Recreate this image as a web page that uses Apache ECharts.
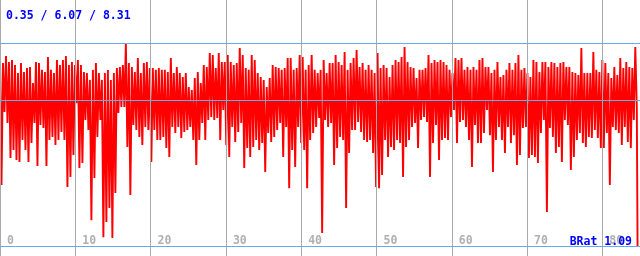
<!DOCTYPE html>
<html>
<head>
<meta charset="utf-8">
<script src="https://cdn.jsdelivr.net/npm/echarts@6/dist/echarts.min.js"></script>
<style>html,body{margin:0;padding:0;background:#fff}#c{width:640px;height:256px}</style>
</head>
<body>
<div id="c"></div>
<script>
// per-column upper values (one column every ~3 px of the trace)
var hiVals = [7.80,7.51,7.80,7.55,7.63,7.43,7.10,7.51,7.14,7.31,7.35,6.69,7.55,7.51,7.23,7.14,7.76,7.23,7.10,7.63,
7.43,7.63,7.80,7.43,7.55,7.43,7.63,7.43,7.14,7.10,6.82,7.23,7.51,7.10,6.82,7.10,7.23,6.82,7.10,7.31,
7.35,7.43,8.31,7.51,7.35,7.14,7.72,7.10,7.51,7.55,7.31,7.31,7.23,7.31,7.23,7.23,7.14,7.72,7.10,7.35,
7.10,6.94,7.10,6.53,6.41,6.90,7.14,6.69,7.43,7.35,7.92,7.84,7.31,7.92,7.55,7.55,7.84,7.55,7.43,7.51,
8.13,7.84,7.31,7.23,7.84,7.63,7.10,6.94,6.82,6.53,6.90,7.43,7.35,7.31,7.23,7.31,7.72,7.72,7.23,7.31,
7.84,7.76,7.23,7.43,7.84,7.23,7.10,7.23,7.63,7.10,7.51,7.51,7.84,7.55,7.43,7.96,7.23,7.51,7.72,8.04,
7.35,7.51,7.23,7.43,7.23,7.10,7.92,7.31,7.43,7.31,6.94,7.43,7.63,7.55,7.76,8.17,7.55,7.35,7.31,6.90,
7.23,7.23,7.31,7.84,7.51,7.63,7.55,7.63,7.55,7.43,7.23,7.10,7.72,7.63,7.72,7.23,7.35,7.23,7.35,7.23,
7.63,7.72,7.35,7.35,7.10,7.23,7.55,6.94,7.02,7.23,7.51,7.23,7.51,7.84,7.23,7.31,7.10,6.94,7.63,7.55,
7.14,7.55,7.55,7.35,7.55,7.51,7.35,7.51,7.55,7.35,7.35,7.14,7.10,7.02,8.13,7.10,7.10,7.10,7.96,7.23,
7.14,7.63,7.51,7.10,6.90,7.35,7.02,7.72,7.31,7.55,7.35,7.31,8.17];
// per-column lower values
var loVals = [2.52,5.51,5.06,3.62,3.95,3.54,3.46,4.36,3.95,3.46,4.24,5.06,3.30,4.97,4.85,3.30,4.36,4.48,4.16,4.36,
4.69,4.36,2.44,2.85,3.75,5.87,3.21,3.42,5.18,4.77,1.08,2.80,4.48,5.18,0.38,1.00,1.58,0.35,2.19,5.47,
5.71,5.71,4.07,2.11,4.97,4.77,4.48,4.16,4.89,4.77,3.46,4.77,4.36,4.36,4.48,4.03,3.66,4.89,4.65,4.89,
4.44,4.69,4.77,4.89,4.36,3.34,4.36,5.06,4.36,5.18,5.30,5.18,5.26,4.36,5.59,4.16,3.66,4.89,4.28,4.69,
5.06,3.21,4.03,3.66,4.07,4.36,3.95,4.24,3.05,4.65,4.28,4.48,4.77,5.06,3.66,4.89,2.39,3.95,3.25,4.89,
4.24,3.95,2.39,4.36,4.65,4.89,5.26,0.55,5.18,4.89,5.06,3.34,4.03,4.48,4.36,1.58,3.83,4.77,4.77,5.10,
4.69,4.36,4.28,4.36,3.83,2.44,2.39,2.93,4.36,3.66,4.07,3.95,4.36,4.24,2.85,4.07,4.36,4.89,5.06,4.03,
5.18,5.30,5.10,2.85,4.24,4.97,3.54,4.36,4.44,4.36,5.30,5.59,4.24,5.10,5.18,4.89,4.36,3.25,4.97,4.24,
4.24,4.65,5.59,4.56,3.05,4.36,4.89,4.36,3.83,4.89,4.24,4.56,3.34,3.75,4.85,4.89,3.62,3.75,3.66,3.42,
4.65,5.18,1.41,4.85,4.48,3.83,4.07,3.46,5.18,4.97,3.13,3.66,4.36,4.65,4.24,4.07,4.48,4.44,4.77,4.44,
4.03,4.03,4.65,2.52,4.89,4.77,4.65,4.16,4.89,4.28,4.03,5.18,5.71];
var endVal = 0;
var xTicks = [0,10,20,30,40,50,60,70,80];
var refLevels = [0, 5.98, 8.31];   // bottom, mean, top reference lines
var statsText = '0.35 / 6.07 / 8.31';
var ratioText = 'BRat 1.09';

var STEP = 0.398;
var pts = [];
for (var i = 0; i < hiVals.length; i++) {
  pts.push([i * STEP, hiVals[i]]);
  pts.push([i * STEP + STEP / 2, loVals[i]]);
}
pts.push([hiVals.length * STEP - STEP / 2 + 0.1, endVal]);

var chart = echarts.init(document.getElementById('c'), null, {renderer: 'canvas'});
var mono = 'DejaVu Sans Mono';
chart.setOption({
  animation: false,
  backgroundColor: '#ffffff',
  title: [
    {text: statsText, left: 6, top: 10, padding: 0,
     textStyle: {fontFamily: mono, fontWeight: 'bold', fontSize: 11.5, color: '#0000ff'}},
    {text: ratioText, right: 8, top: 236.5, padding: 0, z: 10,
     textStyle: {fontFamily: mono, fontWeight: 'bold', fontSize: 11.5, color: '#0000ff'}}
  ],
  grid: {left: 0, right: 0, top: 0, bottom: 0, containLabel: false},
  xAxis: {
    type: 'value', min: 0, max: 85, interval: 10, z: 5,
    axisLine: {show: false}, axisTick: {show: false},
    splitLine: {show: true, lineStyle: {color: '#aaaaaa', width: 1}},
    axisLabel: {
      inside: true, margin: 9, align: 'left', padding: [0, 0, 0, 7],
      showMinLabel: true, showMaxLabel: false,
      fontFamily: mono, fontWeight: 'bold', fontSize: 11.5, color: '#b0b0b0',
      formatter: function (v) { return xTicks.indexOf(v) >= 0 ? String(v) : ''; }
    }
  },
  yAxis: {
    type: 'value', min: -0.389, max: 10.091, show: false,
    splitLine: {show: false}
  },
  series: [{
    type: 'line', data: pts, showSymbol: false, symbol: 'none',
    lineStyle: {color: '#ff0000', width: 1.9},
    z: 2,
    markLine: {
      silent: true, symbol: 'none', label: {show: false},
      lineStyle: {color: '#6aa8ec', type: 'solid', width: 1},
      data: refLevels.map(function (v) { return {yAxis: v}; })
    }
  }]
});
</script>
</body>
</html>
